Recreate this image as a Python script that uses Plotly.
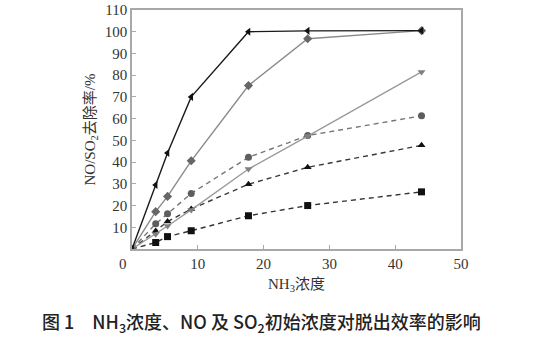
import plotly.graph_objects as go

# NH3 concentration levels (x axis)
nh3 = [0, 3.6, 5.4, 9.0, 17.7, 26.7, 44.0]

# Removal efficiency (%) for each NO / SO2 initial-concentration case
s_left_tri = [0, 29.5, 44.2, 70.0, 100.0, 100.4, 100.5]
s_diamond = [0, 17.2, 24.2, 40.6, 75.2, 96.8, 100.5]
s_down_tri = [0, 6.8, 10.6, 18.0, 36.8, 52.0, 81.5]
s_circle = [0, 11.6, 16.2, 25.6, 42.2, 52.2, 61.3]
s_up_tri = [0, 8.3, 12.6, 18.4, 29.8, 37.6, 47.7]
s_square = [0, 3.0, 5.7, 8.4, 15.3, 20.0, 26.3]

x_ticks = [10, 20, 30, 40, 50]
y_ticks = [10, 20, 30, 40, 50, 60, 70, 80, 90, 100, 110]

serif = "Liberation Serif, Times New Roman, Noto Sans CJK SC, serif"

series = [
    # (values, marker symbol, line colour, marker colour, dash)
    (s_square, "square", "#333333", "#111111", "5px,4px"),
    (s_up_tri, "triangle-up", "#3a3a3a", "#111111", "5px,4px"),
    (s_circle, "circle", "#777777", "#5e5e5e", "5px,4px"),
    (s_down_tri, "triangle-down", "#9a9a9a", "#808080", "solid"),
    (s_diamond, "diamond", "#8a8a8a", "#666666", "solid"),
    (s_left_tri, "triangle-left", "#1a1a1a", "#111111", "solid"),
]

fig = go.Figure()
for vals, sym, lc, mc, dash in series:
    fig.add_trace(go.Scatter(
        x=nh3, y=vals, mode="lines+markers",
        line=dict(color=lc, width=1.4, dash=dash),
        marker=dict(symbol=sym, size=7, color=mc),
        showlegend=False,
    ))

axis_common = dict(
    showgrid=False, zeroline=False,
    showline=True, linecolor="#a8a8a8", linewidth=1.5, mirror=True,
    ticks="inside", ticklen=4, tickcolor="#a8a8a8", tickwidth=1,
    tickfont=dict(family=serif, size=15, color="#333333"),
)

fig.update_xaxes(
    range=[0, 50], tickvals=x_ticks,
    title=dict(text="NH<sub>3</sub>浓度", font=dict(family=serif, size=15, color="#333333"),
               standoff=8),
    **axis_common,
)
fig.update_yaxes(
    range=[0, 110], tickvals=y_ticks,
    title=dict(text="NO/SO<sub>2</sub>去除率/%", font=dict(family=serif, size=15, color="#333333"),
               standoff=6),
    **axis_common,
)

# shared origin label in the corner
fig.add_annotation(
    x=0, y=0, xref="x", yref="y", text="0", showarrow=False,
    xanchor="center", yanchor="top", xshift=-9, yshift=-5,
    font=dict(family=serif, size=15, color="#333333"),
)

# figure caption
fig.add_annotation(
    x=261, y=322, xref="paper", yref="paper",
    text="图 1　NH<sub>3</sub>浓度、NO 及 SO<sub>2</sub>初始浓度对脱出效率的影响",
    showarrow=False, xanchor="center", yanchor="middle",
    font=dict(family="Noto Sans CJK SC, Noto Sans, sans-serif", size=18,
              color="#222222", weight=500),
)

fig.update_layout(
    width=548, height=339,
    margin=dict(l=132, r=87, t=10, b=90, autoexpand=False),
    plot_bgcolor="white", paper_bgcolor="white",
)

# convert caption pixel position to paper coordinates
pw, ph = 548 - 132 - 87, 339 - 10 - 90
cap = fig.layout.annotations[-1]
cap.x = (261 - 132) / pw
cap.y = (339 - 90 - 322) / ph

fig.write_html("out.html")
